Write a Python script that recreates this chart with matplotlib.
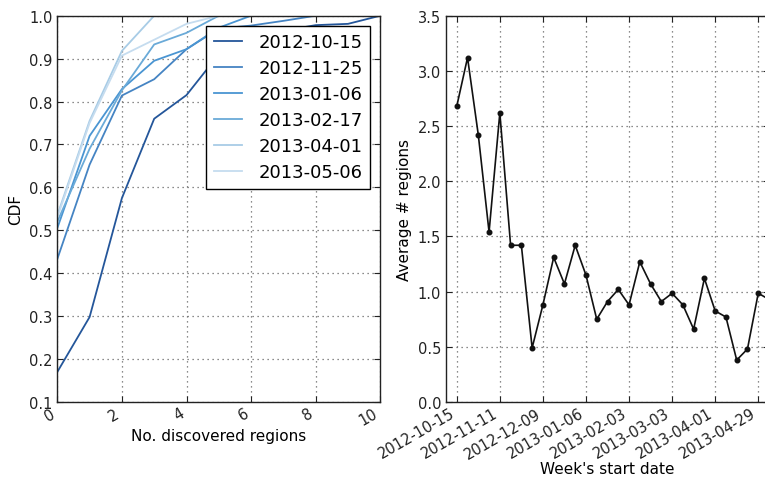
import numpy as np
import matplotlib
matplotlib.use("Agg")
import matplotlib.pyplot as plt

# ---- left panel: CDF of discovered regions per snapshot ----
n_regions = list(range(11))
snapshot_labels = ["2012-10-15", "2012-11-25", "2013-01-06",
                   "2013-02-17", "2013-04-01", "2013-05-06"]
cdf_2012_10_15 = [0.17, 0.298, 0.575, 0.76, 0.815, 0.91, 0.945, 0.965, 0.978, 0.981, 1.0]
cdf_2012_11_25 = [0.433, 0.653, 0.814, 0.852, 0.922, 0.97, 0.977, 0.988, 1.0, 1.0, 1.0]
cdf_2013_01_06 = [0.505, 0.72, 0.829, 0.895, 0.922, 0.972, 1.0, 1.0, 1.0, 1.0, 1.0]
cdf_2013_02_17 = [0.52, 0.69, 0.826, 0.933, 0.96, 1.0, 1.0, 1.0, 1.0, 1.0, 1.0]
cdf_2013_04_01 = [0.535, 0.755, 0.918, 1.0, 1.0, 1.0, 1.0, 1.0, 1.0, 1.0, 1.0]
cdf_2013_05_06 = [0.53, 0.75, 0.907, 0.944, 0.981, 1.0, 1.0, 1.0, 1.0, 1.0, 1.0]
snapshot_colors = ["#24569a", "#4584c3", "#4a95d2", "#6aaad8", "#a8cce6", "#c5dcef"]

# ---- right panel: weekly average number of regions ----
avg_regions = [2.68, 3.12, 2.42, 1.54, 2.62, 1.42, 1.42, 0.49, 0.88, 1.31,
               1.07, 1.42, 1.15, 0.75, 0.91, 1.02, 0.88, 1.27, 1.07, 0.91,
               0.985, 0.88, 0.66, 1.12, 0.825, 0.77, 0.38, 0.48, 0.985, 0.93]
week_tick_labels = ["2012-10-15", "2012-11-11", "2012-12-09", "2013-01-06",
                    "2013-02-03", "2013-03-03", "2013-04-01", "2013-04-29"]
week_tick_pos = [0, 4, 8, 12, 16, 20, 24, 28]

plt.rcParams["font.family"] = ["DejaVu Sans"]
plt.rcParams["xtick.direction"] = "in"
plt.rcParams["ytick.direction"] = "in"
plt.rcParams["xtick.top"] = True
plt.rcParams["ytick.right"] = True
plt.rcParams["xtick.major.size"] = 4
plt.rcParams["ytick.major.size"] = 4
plt.rcParams["xtick.major.pad"] = 2.5
plt.rcParams["ytick.major.pad"] = 3.5

W, H = 765, 481
fig = plt.figure(figsize=(W / 100, H / 100), dpi=100)
fig.patch.set_facecolor("white")

def px_axes(x0, y_top, x1, y_bot):
    return fig.add_axes([x0 / W, 1 - y_bot / H, (x1 - x0) / W, (y_bot - y_top) / H])

tick_fs = 10.5

def style(ax):
    ax.grid(True, color="#666666", linestyle=(0, (1, 3)), linewidth=0.9)
    ax.set_axisbelow(True)
    for s in ax.spines.values():
        s.set_linewidth(1.0)
        s.set_color("#222222")
    ax.tick_params(labelsize=tick_fs, colors="#222222", width=0.8)

# left panel
ax1 = px_axes(57.3, 16.7, 380.3, 403)
cdf_series = [cdf_2012_10_15, cdf_2012_11_25, cdf_2013_01_06,
              cdf_2013_02_17, cdf_2013_04_01, cdf_2013_05_06]
for vals, lab, col in zip(cdf_series, snapshot_labels, snapshot_colors):
    ax1.plot(n_regions, vals, color=col, linewidth=1.3, label=lab)
ax1.set_xlim(0, 10)
ax1.set_ylim(0.1, 1.0)
ax1.set_xticks(range(0, 11, 2))
ax1.set_yticks(np.arange(0.1, 1.01, 0.1))
ax1.set_yticklabels([f"{v:.1f}" for v in np.arange(0.1, 1.01, 0.1)])
style(ax1)
ax1.set_xlabel("No. discovered regions", fontsize=11, labelpad=0)
ax1.set_ylabel("CDF", fontsize=11)
for t in ax1.get_xticklabels():
    t.set_rotation(30)
    t.set_ha("right")
leg = ax1.legend(loc="upper right", fontsize=13, fancybox=False, framealpha=1,
                 edgecolor="black", handlelength=1.55, borderaxespad=0.55,
                 labelspacing=0.45, handletextpad=0.95, borderpad=0.4)
leg.get_frame().set_linewidth(1.0)

# right panel (extends past the figure edge on the right)
ax2 = px_axes(446, 16.7, 769, 403)
weeks = np.arange(len(avg_regions))
ax2.plot(weeks, avg_regions, color="#111111", linewidth=1.2,
         marker="o", markersize=3.3)
ax2.set_xlim(-1, 29)
ax2.set_ylim(0, 3.5)
ax2.set_yticks(np.arange(0, 3.51, 0.5))
ax2.set_yticklabels([f"{v:.1f}" for v in np.arange(0, 3.51, 0.5)])
ax2.set_xticks(week_tick_pos)
ax2.set_xticklabels(week_tick_labels, rotation=30, ha="right")
style(ax2)
ax2.set_xlabel("Week's start date", fontsize=11, labelpad=0)
ax2.set_ylabel("Average # regions", fontsize=11)

fig.savefig("out.png", dpi=100)
